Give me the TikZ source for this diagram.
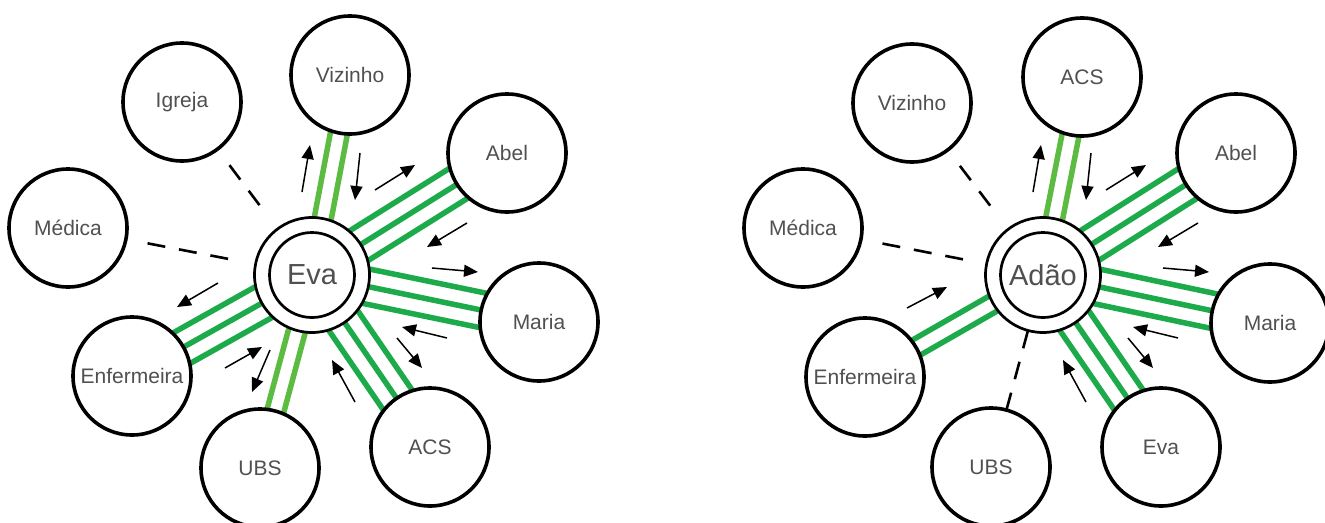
\documentclass[tikz,border=0pt]{standalone}
\usepackage{fontspec}
\setmainfont{Liberation Sans}
\usetikzlibrary{calc,arrows.meta}
\pgfdeclarelayer{bg}
\pgfsetlayers{bg,main}
\definecolor{dkgreen}{RGB}{28,170,75}
\definecolor{ltgreen}{RGB}{92,188,66}
\definecolor{txtgray}{RGB}{80,80,80}
\newcommand\tiepair[3]{%
  \draw[tie,#1] ($(#2.center)!8.5pt!90:(#3.center)$) -- ($(#3.center)!8.5pt!-90:(#2.center)$);
  \draw[tie,#1] ($(#2.center)!8.5pt!-90:(#3.center)$) -- ($(#3.center)!8.5pt!90:(#2.center)$);}
\newcommand\tietriple[3]{%
  \draw[tie,#1] ($(#2.center)!17.5pt!90:(#3.center)$) -- ($(#3.center)!17.5pt!-90:(#2.center)$);
  \draw[tie,#1] (#2.center) -- (#3.center);
  \draw[tie,#1] ($(#2.center)!17.5pt!-90:(#3.center)$) -- ($(#3.center)!17.5pt!90:(#2.center)$);}
\begin{document}
\begin{tikzpicture}[x=1pt,y=-1pt,
  actor/.style={circle,draw=black,line width=3.6pt,fill=white,minimum size=118pt,inner sep=0pt,outer sep=0pt,text=txtgray,font=\fontsize{21}{21}\selectfont},
  ring/.style={circle,draw=black,line width=2.7pt,fill=white,minimum size=115pt,inner sep=0pt,outer sep=0pt},
  core/.style={circle,draw=black,line width=2.7pt,fill=white,minimum size=85pt,inner sep=0pt,outer sep=0pt,text=txtgray,font=\fontsize{29}{29}\selectfont},
  weak/.style={line width=2.6pt,dash pattern=on 18pt off 14pt},
  tie/.style={line width=5.5pt},
  flow/.style={line width=1.5pt,-{Triangle[length=14pt,width=12pt]}}
]
\useasboundingbox (0,0) rectangle (1325,522);

% ---------- left network (Eva)
\node[ring] (evaring) at (312,275) {};
\node[core] (eva) at (312,275) {Eva};
\node[actor] (igreja) at (182,102) {Igreja};
\node[actor] (vizL) at (350,75) {Vizinho};
\node[actor] (abelL) at (507,153) {Abel};
\node[actor] (mariaL) at (539,322) {Maria};
\node[actor] (acsL) at (430,447) {ACS};
\node[actor] (ubsL) at (260,468) {UBS};
\node[actor] (enfL) at (132,376) {Enfermeira};
\node[actor] (medL) at (68,228) {Médica};

% ---------- right network (Adão)
\node[ring] (adaoring) at (1043,275) {};
\node[core] (adao) at (1043,275) {Adão};
\node[actor] (vizR) at (912,103) {Vizinho};
\node[actor] (acsR) at (1082,77) {ACS};
\node[actor] (abelR) at (1236,153) {Abel};
\node[actor] (mariaR) at (1270,323) {Maria};
\node[actor] (evaR) at (1161,447) {Eva};
\node[actor] (ubsR) at (991,467) {UBS};
\node[actor] (enfR) at (865,377) {Enfermeira};
\node[actor] (medR) at (803,228) {Médica};

\begin{pgfonlayer}{bg}
  \fill[white] (0,0) rectangle (1325,522);
  % left ties
  \tiepair{ltgreen}{evaring}{vizL}
  \tietriple{dkgreen}{evaring}{abelL}
  \tietriple{dkgreen}{evaring}{mariaL}
  \tietriple{dkgreen}{evaring}{acsL}
  \tiepair{ltgreen}{evaring}{ubsL}
  \tietriple{dkgreen}{evaring}{enfL}
  \draw[weak,shorten <=20pt,shorten >=20pt] (igreja) -- (evaring);
  \draw[weak,shorten <=22pt,shorten >=17pt] (medL) -- (evaring);
  % right ties
  \tiepair{ltgreen}{adaoring}{acsR}
  \tietriple{dkgreen}{adaoring}{abelR}
  \tietriple{dkgreen}{adaoring}{mariaR}
  \tietriple{dkgreen}{adaoring}{evaR}
  \tiepair{dkgreen}{adaoring}{enfR}
  \draw[weak,shorten <=20pt,shorten >=20pt] (vizR) -- (adaoring);
  \draw[weak,shorten <=22pt,shorten >=17pt] (medR) -- (adaoring);
  \draw[weak] (ubsR) -- (adaoring);
\end{pgfonlayer}

% ---------- flow arrows, left
\draw[flow] (302,192) -- (310,145);
\draw[flow] (360,153) -- (355,200);
\draw[flow] (375,190) -- (415,165);
\draw[flow] (467,223) -- (427,247);
\draw[flow] (432,268) -- (478,272);
\draw[flow] (447,338) -- (402,327);
\draw[flow] (397,338) -- (422,368);
\draw[flow] (355,402) -- (332,360);
\draw[flow] (270,350) -- (252,392);
\draw[flow] (225,368) -- (262,347);
\draw[flow] (218,283) -- (177,307);

% ---------- flow arrows, right
\draw[flow] (1033,192) -- (1041,145);
\draw[flow] (1091,153) -- (1086,200);
\draw[flow] (1106,190) -- (1146,165);
\draw[flow] (1198,223) -- (1158,247);
\draw[flow] (1163,268) -- (1209,272);
\draw[flow] (1178,338) -- (1133,327);
\draw[flow] (1128,338) -- (1153,368);
\draw[flow] (1086,402) -- (1063,360);
\draw[flow] (907,308) -- (947,287);
\end{tikzpicture}
\end{document}
